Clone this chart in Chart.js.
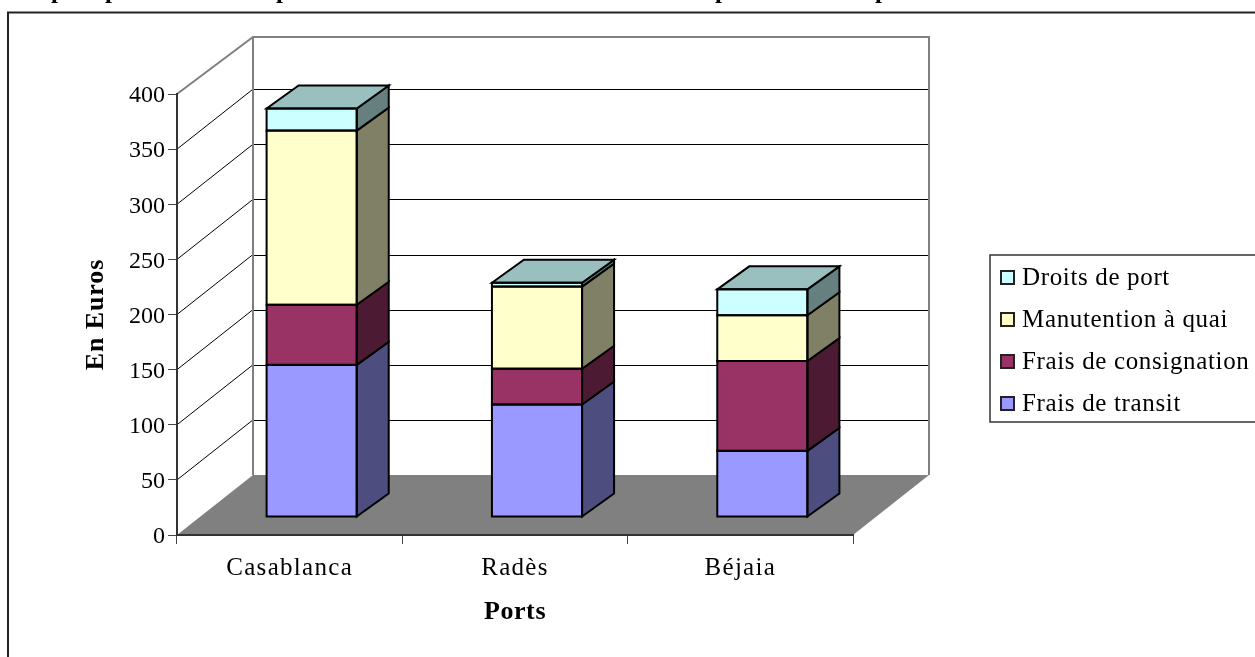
<!DOCTYPE html>
<html><head><meta charset="utf-8">
<style>html,body{margin:0;padding:0;background:#fff;overflow:hidden}canvas{display:block}</style>
<script src="https://cdn.jsdelivr.net/npm/chart.js@4"></script>
</head><body>
<canvas id="c" width="1255" height="657"></canvas>
<script>
const categories = ["Casablanca", "Radès", "Béjaia"];
const fraisTransit = [138, 102, 60];
const fraisConsignation = [54.5, 32.5, 81.5];
const manutention = [158, 74.5, 41.5];
const droitsPort = [20, 3.5, 23.5];
const seriesLabels = ["Frais de transit", "Frais de consignation", "Manutention à quai", "Droits de port"];
const frontColors = ["#9999FF", "#993366", "#FFFFCC", "#CCFFFF"];
const sideColors = ["#4D4D80", "#4D1A33", "#808066", "#668080"];
const topColor = "#99C0BE";
const titleFeet = [58, 112, 283, 722, 882];

const FONT = "'Liberation Serif','Times New Roman',serif";
const WALL = {dx: 76, dy: -60};      // depth of the floor
const GAP = {dx: 22, dy: -18};       // bar offset into the floor
const BAR = {dx: 32, dy: -23};       // depth of a bar

function spaced(scale, tick, title) {
  if (scale._spaced) return;
  scale._spaced = true;
  const dl = scale.drawLabels, dt = scale.drawTitle;
  scale.drawLabels = function (a) { const c = this.ctx; c.save(); c.letterSpacing = tick; dl.call(this, a); c.restore(); };
  scale.drawTitle = function (a) { const c = this.ctx; c.save(); c.letterSpacing = title; dt.call(this, a); c.restore(); };
}
function poly(c, pts, fill, stroke, lw) {
  c.beginPath();
  pts.forEach((p, i) => i ? c.lineTo(p[0], p[1]) : c.moveTo(p[0], p[1]));
  c.closePath();
  if (fill) { c.fillStyle = fill; c.fill(); }
  if (stroke) { c.strokeStyle = stroke; c.lineWidth = lw; c.stroke(); }
}
function line(c, x1, y1, x2, y2, col, lw) {
  c.beginPath(); c.moveTo(x1, y1); c.lineTo(x2, y2); c.strokeStyle = col; c.lineWidth = lw; c.stroke();
}

const scene = {
  id: "scene",
  beforeDraw(chart) {
    const c = chart.ctx, a = chart.chartArea, y = chart.scales.y;
    c.save();
    c.fillStyle = "#fff"; c.fillRect(0, 0, chart.width, chart.height);
    // clipped title feet along the top edge
    c.fillStyle = "#000"; c.font = "bold 25px " + FONT; c.textAlign = "center"; c.textBaseline = "alphabetic";
    titleFeet.forEach(x => c.fillText("p", x, -2));
    // outer frame
    c.strokeStyle = "#222"; c.lineWidth = 2;
    c.beginPath(); c.moveTo(8, chart.height + 5); c.lineTo(8, 12.5); c.lineTo(chart.width + 5, 12.5); c.stroke();
    // floor
    const L = a.left, R = a.right, B = a.bottom, T = y.getPixelForValue(400);
    poly(c, [[L, B], [L + WALL.dx, B + WALL.dy], [R + WALL.dx, B + WALL.dy], [R, B]], "#808080");
    // gridlines on side and back walls
    y.ticks.forEach(t => {
      if (t.value === 400) return;
      const p = y.getPixelForValue(t.value);
      if (t.value > 0) {
        line(c, L, p, L + WALL.dx, p + WALL.dy, "#000", 1);
        line(c, L + WALL.dx, Math.round(p + WALL.dy) + .5, R + WALL.dx, Math.round(p + WALL.dy) + .5, "#000", 1);
      }
    });
    // wall edges
    const ty = T + WALL.dy + 3;
    c.strokeStyle = "#808080"; c.lineWidth = 2; c.lineJoin = "miter";
    c.beginPath();
    c.moveTo(L, T); c.lineTo(L + WALL.dx, ty); c.lineTo(R + WALL.dx, ty); c.lineTo(R + WALL.dx, B + WALL.dy);
    c.moveTo(L + WALL.dx, ty); c.lineTo(L + WALL.dx, B + WALL.dy);
    c.stroke();
    c.restore();
  },
  beforeDatasetsDraw(chart) {
    chart.ctx.save();
    chart.ctx.translate(GAP.dx, GAP.dy);
  },
  afterDatasetsDraw(chart) {
    const c = chart.ctx;
    c.lineJoin = "miter";
    const n = chart.data.datasets.length;
    categories.forEach((_, j) => {
      chart.data.datasets.forEach((ds, i) => {
        const el = chart.getDatasetMeta(i).data[j];
        const l = el.x - el.width / 2, r = el.x + el.width / 2, t = el.y, b = el.base;
        poly(c, [[r, b], [r + BAR.dx, b + BAR.dy], [r + BAR.dx, t + BAR.dy], [r, t]], sideColors[i], "#000", 2);
        if (i === n - 1) poly(c, [[l, t], [l + BAR.dx, t + BAR.dy], [r + BAR.dx, t + BAR.dy], [r, t]], topColor, "#000", 2);
        c.strokeStyle = "#000"; c.lineWidth = 2; c.strokeRect(l, t, r - l, b - t);
      });
    });
    c.restore();
    // legend, top row = last series
    c.save();
    c.strokeStyle = "#333"; c.lineWidth = 1.5;
    c.strokeRect(990, 255, 300, 167);
    const rows = [278, 320, 362, 404];
    c.font = "25px " + FONT; c.textBaseline = "middle"; c.textAlign = "left"; c.letterSpacing = "0.65px";
    rows.forEach((ry, k) => {
      const i = n - 1 - k;
      c.fillStyle = frontColors[i]; c.fillRect(1001, ry - 7, 13, 13);
      c.strokeStyle = "#222"; c.lineWidth = 2; c.strokeRect(1001, ry - 7, 13, 13);
      c.fillStyle = "#000"; c.fillText(chart.data.datasets[i].label, 1022, ry);
    });
    c.restore();
  }
};

const seriesValues = [fraisTransit, fraisConsignation, manutention, droitsPort];
new Chart(document.getElementById("c"), {
  type: "bar",
  data: {
    labels: categories,
    datasets: seriesLabels.map((label, i) => ({
      label, data: seriesValues[i], backgroundColor: frontColors[i],
      borderWidth: 0, clip: false, categoryPercentage: 0.4, barPercentage: 1
    }))
  },
  plugins: [scene],
  options: {
    responsive: false, animation: false, devicePixelRatio: 1,
    layout: {padding: {left: 81, right: 402, top: 94, bottom: 29}},
    plugins: {legend: {display: false}, title: {display: false}, tooltip: {enabled: false}},
    scales: {
      x: {
        stacked: true, offset: true,
        afterFit(s) { s.height = 93; spaced(s, "1.3px", "0.6px"); },
        grid: {drawOnChartArea: false, drawTicks: true, tickLength: 9, color: "#444", lineWidth: 1, offset: true},
        border: {display: true, color: "#333", width: 2},
        ticks: {color: "#000", font: {family: FONT, size: 25}, padding: 9, maxRotation: 0},
        title: {display: true, text: "Ports", color: "#000", font: {family: FONT, size: 26, weight: "bold"}, padding: 0}
      },
      y: {
        stacked: true, min: 0, max: 400,
        afterFit(s) { s.width = 96; spaced(s, "0px", "0.9px"); },
        grid: {drawOnChartArea: false, drawTicks: true, tickLength: 9, color: "#444", lineWidth: 1},
        border: {display: true, color: "#333", width: 2},
        ticks: {color: "#000", stepSize: 50, font: {family: FONT, size: 24}, padding: 3, labelOffset: 2},
        title: {display: true, text: "En Euros", color: "#000", font: {family: FONT, size: 26, weight: "bold"}, padding: 0}
      }
    }
  }
});
</script>
</body></html>
